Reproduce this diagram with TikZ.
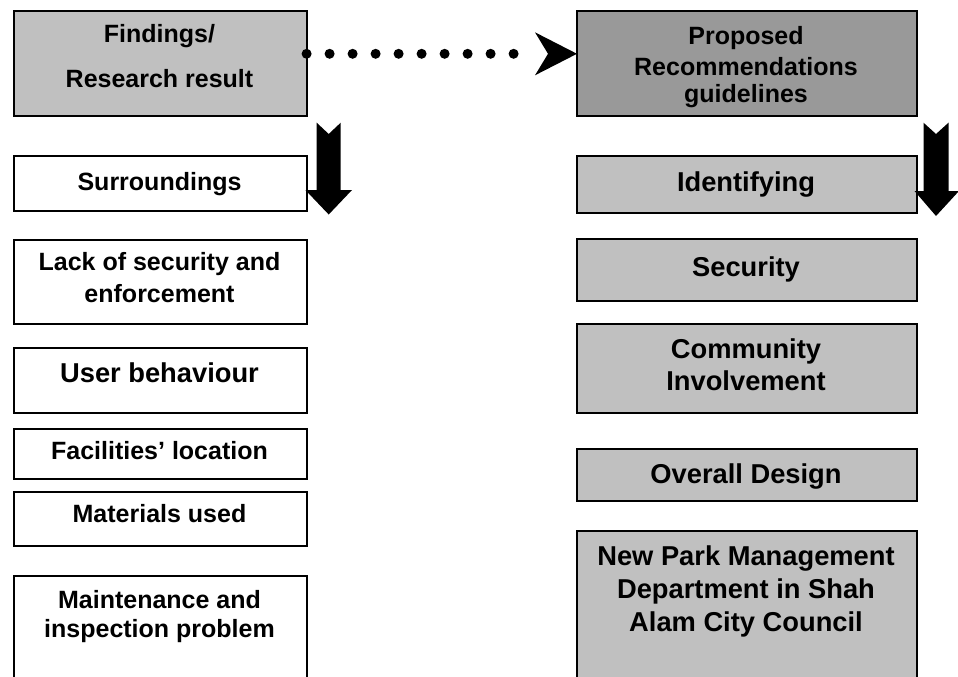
\documentclass[tikz,border=0pt]{standalone}
\usepackage{fontspec}
\setmainfont{Liberation Sans}
\usetikzlibrary{calc}
\definecolor{lightfill}{HTML}{C0C0C0}
\definecolor{darkfill}{HTML}{999999}
\begin{document}
\begin{tikzpicture}[x=1pt,y=-1pt,
  box/.style={draw=black, line width=1.6pt, rectangle, inner sep=0pt, anchor=north west},
  wbox/.style={box, fill=white},
  gbox/.style={box, fill=lightfill},
  dbox/.style={box, fill=darkfill},
  txt/.style={anchor=base, inner sep=0pt, font=\bfseries\fontsize{25}{29}\selectfont},
  bigtxt/.style={anchor=base, inner sep=0pt, font=\bfseries\fontsize{27.3}{31}\selectfont},
  dotline/.style={line width=10pt, line cap=round, dash pattern=on 0pt off 23pt}
]
\useasboundingbox (0,0) rectangle (958,677);
\clip (0,0) rectangle (958,677);

% left column boxes
\node[gbox, minimum width=293pt, minimum height=105pt] (find) at (13,10) {};
\node[wbox, minimum width=293pt, minimum height=55pt] (surr) at (13,155) {};
\node[wbox, minimum width=293pt, minimum height=84pt] (lack) at (13,239) {};
\node[wbox, minimum width=293pt, minimum height=65pt] (user) at (13,347) {};
\node[wbox, minimum width=293pt, minimum height=50pt] (faci) at (13,428) {};
\node[wbox, minimum width=293pt, minimum height=54pt] (mate) at (13,491) {};
\node[wbox, minimum width=293pt, minimum height=130pt] (main) at (13,575) {};

% right column boxes
\node[dbox, minimum width=340pt, minimum height=105pt] (prop) at (576,10) {};
\node[gbox, minimum width=340pt, minimum height=57pt] (iden) at (576,155) {};
\node[gbox, minimum width=340pt, minimum height=62pt] (secu) at (576,238) {};
\node[gbox, minimum width=340pt, minimum height=89pt] (comm) at (576,323) {};
\node[gbox, minimum width=340pt, minimum height=52pt] (over) at (576,448) {};
\node[gbox, minimum width=340pt, minimum height=175pt] (newp) at (576,530) {};

% left texts
\node[txt] (tfind1) at (159.5,43) {Findings/};
\node[txt] (tfind2) at (159.5,87) {Research result};
\node[txt] (tsurr) at (159.5,190) {Surroundings};
\node[txt] (tlack1) at (159.5,270) {Lack of security and};
\node[txt] (tlack2) at (159.5,302) {enforcement};
\node[bigtxt] (tuser) at (159.5,382) {User behaviour};
\node[txt] (tfaci) at (159.5,459) {Facilities’ location};
\node[txt] (tmate) at (159.5,522) {Materials used};
\node[txt] (tmain1) at (159.5,608) {Maintenance and};
\node[txt] (tmain2) at (159.5,637) {inspection problem};

% right texts
\node[txt] (tprop1) at (746,45) {Proposed};
\node[txt] (tprop2) at (746,75) {Recommendations};
\node[txt] (tprop3) at (746,102) {guidelines};
\node[bigtxt] (tiden) at (746,191) {Identifying};
\node[bigtxt] (tsecu) at (746,276) {Security};
\node[bigtxt] (tcomm1) at (746,358) {Community};
\node[bigtxt] (tcomm2) at (746,390) {Involvement};
\node[bigtxt] (tover) at (746,483) {Overall Design};
\node[bigtxt] (tnewp1) at (746,565) {New Park Management};
\node[bigtxt] (tnewp2) at (746,598) {Department in Shah};
\node[bigtxt] (tnewp3) at (746,631) {Alam City Council};

% dotted connector with stealth head
\coordinate (dstart) at ($(find.east)+(-1,-9.5)$);
\coordinate (dtip) at ($(prop.west)+(1,-9.5)$);
\draw[dotline] (dstart) -- ($(dtip)+(-41,0)$);
\fill[black] (dtip) -- ($(dtip)+(-42,-21.5)$) -- ($(dtip)+(-29,0)$)
  -- ($(dtip)+(-42,21.5)$) -- cycle;

% block arrows
\fill[black] (316.7,122.7) -- (328.7,134) -- (340.7,122.7) -- (340.7,190) -- (352,190)
  -- (328.7,214.5) -- (305.4,190) -- (316.7,190) -- cycle;
\fill[black] (923.5,122.7) -- (936,134) -- (948.5,122.7) -- (948.5,191) -- (959,191)
  -- (936,216) -- (914.5,191) -- (923.5,191) -- cycle;
\end{tikzpicture}
\end{document}
